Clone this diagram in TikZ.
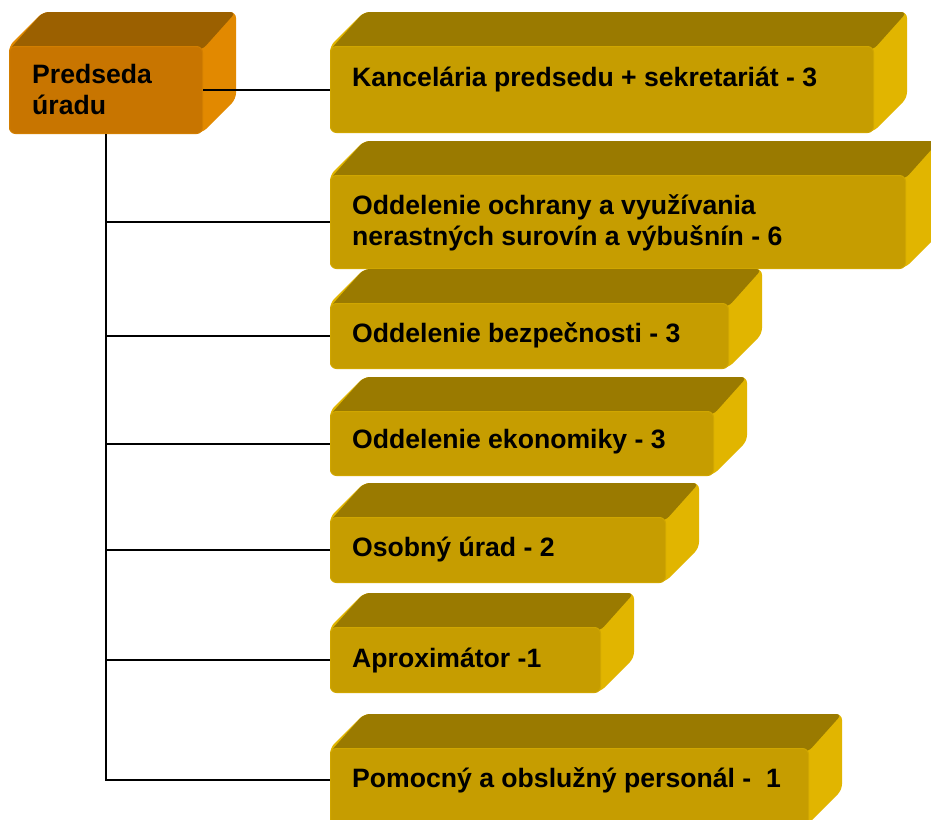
\documentclass[tikz,border=0pt]{standalone}
\usepackage{fontspec}
\setmainfont{Liberation Sans}
\definecolor{gfront}{HTML}{C69D00}
\definecolor{gtop}{HTML}{9A7A00}
\definecolor{gside}{HTML}{E1B500}
\definecolor{gedge}{HTML}{D0A600}
\definecolor{ofront}{HTML}{C87500}
\definecolor{otop}{HTML}{9B6000}
\definecolor{oside}{HTML}{E28900}
\definecolor{oedge}{HTML}{D27E00}
% #1 name, #2 x, #3 y, #4 w, #5 h, #6 colour prefix
\newcommand\solidbox[6]{%
  \fill[#6side, rounded corners=6pt] (#2,#3) -- (#2+34,#3-34) -- (#2+#4+34,#3-34)
     -- (#2+#4+34,#3+#5-34) -- (#2+#4,#3+#5) -- (#2,#3+#5) -- cycle;
  \fill[#6top, rounded corners=6pt] (#2,#3+4) -- (#2+34,#3-34) -- (#2+#4+34,#3-34)
     -- (#2+#4,#3+4) -- cycle;
  \node[frontface, fill=#6front, draw=#6edge, minimum width=#4pt, minimum height=#5pt,
        anchor=north west] (#1) at (#2,#3) {};
}
\tikzset{
  frontface/.style={rectangle, rounded corners=6pt, line width=1pt, inner sep=0pt},
  lbl/.style={inner sep=0pt, anchor=base west, align=left,
              font=\fontsize{26.6}{31}\selectfont\bfseries},
  conn/.style={line width=2pt, black},
}
\begin{document}
\begin{tikzpicture}[x=1pt, y=-1pt]
\useasboundingbox (0,0) rectangle (931,819);
\clip (0,0) rectangle (931,819);
\fill[white] (0,0) rectangle (931,819);

\solidbox{P}{9}{46}{193}{87}{o}
\solidbox{B1}{330}{46}{543}{86}{g}
\solidbox{B2}{330}{175}{575}{93}{g}
\solidbox{B3}{330}{303}{398}{65}{g}
\solidbox{B4}{330}{411}{383}{64}{g}
\solidbox{B5}{330}{517}{335}{65}{g}
\solidbox{B6}{330}{627}{270}{65}{g}
\solidbox{B7}{330}{748}{478}{76}{g}

% base anchor of a two-line label is the baseline of its last line
\node[lbl] (tP) at (32,114) {Predseda\\úradu};
\node[lbl] (t1) at (352,86) {Kancelária predsedu + sekretariát - 3};
\node[lbl] (t2) at (352,245) {Oddelenie ochrany a využívania\\nerastných surovín a výbušnín - 6};
\node[lbl] (t3) at (352,342) {Oddelenie bezpečnosti - 3};
\node[lbl] (t4) at (352,448) {Oddelenie ekonomiky - 3};
\node[lbl] (t5) at (352,556) {Osobný úrad - 2};
\node[lbl] (t6) at (352,667) {Aproximátor -1};
\node[lbl] (t7) at (352,787) {Pomocný a obslužný personál -~~1};

\coordinate (j7) at (106,780);
\draw[conn] (P.east) -- (P.east -| B1.west);
\draw[conn] (P.south) -- (P.south |- j7) -- (j7 -| B7.west);
\draw[conn] (P.south |- B2.west) -- (B2.west);
\draw[conn] (P.south |- B3.west) -- (B3.west);
\draw[conn] (P.south |- B4.west) -- (B4.west);
\draw[conn] (P.south |- B5.west) -- (B5.west);
\draw[conn] (P.south |- B6.west) -- (B6.west);
\end{tikzpicture}
\end{document}
